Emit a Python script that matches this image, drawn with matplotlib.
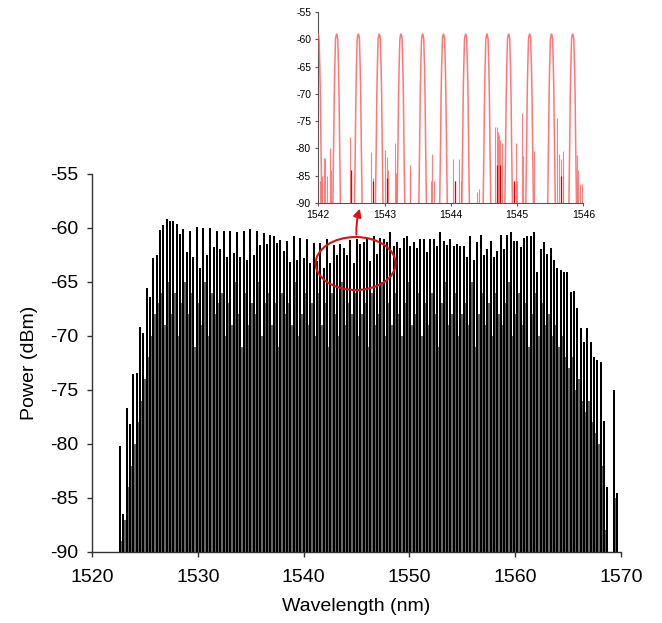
import numpy as np
import matplotlib.pyplot as plt
from matplotlib.patches import Ellipse

plt.rcParams['font.family'] = ['Liberation Sans', 'DejaVu Sans']
plt.rcParams['axes.unicode_minus'] = False

# comb lines of the full spectrum (evenly spaced channels)
line_start_nm = 1522.65
line_spacing_nm = 0.3155
peak_dbm = [
    -80.2, -86.5, -76.7, -78.2, -73.5, -73.4, -69.2, -69.7, -65.6, -66.4,
    -62.8, -62.5, -60.2, -59.7, -59.2, -59.4, -59.4, -59.6, -60.6, -60.1,
    -62.2, -60.3, -62.7, -59.9, -63.7, -60.0, -62.5, -60.0, -61.8, -60.3,
    -62.0, -60.3, -62.7, -60.3, -62.3, -60.4, -62.7, -60.3, -63.0, -60.1,
    -62.5, -60.3, -61.6, -60.5, -61.5, -60.7, -60.8, -61.4, -61.1, -62.1,
    -61.2, -63.2, -60.8, -63.0, -60.9, -62.8, -61.0, -63.3, -61.4, -63.1,
    -61.4, -63.7, -61.0, -63.3, -61.6, -62.5, -61.5, -61.9, -62.5, -61.1,
    -63.3, -61.0, -61.5, -61.3, -61.0, -63.1, -60.8, -62.4, -60.9, -61.0,
    -61.3, -60.4, -61.7, -61.3, -61.9, -60.9, -60.8, -61.7, -61.3, -61.9,
    -61.0, -61.0, -62.2, -61.0, -61.0, -61.7, -60.4, -61.2, -61.6, -61.0,
    -61.7, -61.5, -61.7, -61.7, -62.7, -60.8, -63.0, -61.3, -60.7, -62.5,
    -62.0, -61.2, -62.7, -62.1, -60.7, -62.0, -60.7, -60.4, -61.2, -61.2,
    -61.8, -60.9, -60.8, -60.8, -60.4, -64.1, -62.0, -61.3, -62.4, -61.9,
    -63.0, -63.7, -63.9, -64.1, -64.1, -65.9, -65.8, -67.4, -69.3, -70.6,
    -69.3, -70.6, -72.0, -72.2, -72.4, -77.9, -84.0, np.nan, -75.0, -84.5,
]
# level of the noise pedestal between neighbouring lines
gap_dbm = [
    -89, -87, -84, -82, -80, -78, -76, -74, -72, -70,
    -68, -67, -66, -69, -65, -68, -66, -70, -67, -65,
    -68, -66, -71, -67, -69, -65, -70, -66, -68, -67,
    -66, -70, -67, -69, -65, -68, -71, -66, -69, -67,
    -68, -65, -70, -67, -66, -69, -67, -71, -66, -68,
    -67, -69, -65, -70, -68, -66, -69, -67, -70, -66,
    -69, -67, -71, -66, -68, -70, -65, -69, -67, -68,
    -66, -70, -68, -67, -71, -66, -69, -68, -65, -70,
    -67, -69, -66, -68, -70, -67, -65, -69, -68, -66,
    -70, -67, -69, -66, -68, -71, -67, -65, -69, -68,
    -66, -70, -68, -67, -69, -65, -71, -68, -66, -69,
    -67, -70, -66, -68, -69, -67, -65, -70, -68, -66,
    -69, -67, -71, -68, -66, -70, -67, -69, -68, -70,
    -69, -71, -70, -72, -73, -72, -75, -74, -76, -77,
    -76, -78, -79, -80, -82, -88, np.nan, np.nan, -85,
]

# zoomed view 1542-1546 nm
zoom_peak_nm = [1541.995, 1542.277, 1542.604, 1542.920, 1543.248, 1543.575, 1543.890,
                1544.224, 1544.546, 1544.873, 1545.190, 1545.520, 1545.840]
zoom_peak_dbm = [-59.0, -59.0, -59.0, -59.0, -59.0, -59.0, -59.0,
                 -59.0, -59.0, -59.0, -59.0, -59.0, -59.0]
line_offset_nm = [-0.062, -0.057, -0.046, -0.036, -0.028, -0.017, -0.009, 0.0,
                  0.009, 0.017, 0.028, 0.036, 0.046, 0.057, 0.062]
line_shape_db = [-33, -31, -21, -11, -6, -1, -0.3, 0,
                 -0.3, -1, -6, -11, -21, -31, -33]
spike_nm = [1542.02, 1542.05, 1542.08, 1542.10, 1542.13, 1542.17, 1542.19, 1542.48,
            1542.49, 1542.80, 1542.82, 1543.01, 1543.03, 1543.05, 1543.16, 1543.17,
            1543.38, 1543.39, 1543.70, 1543.72, 1543.74, 1544.03, 1544.06, 1544.13,
            1544.15, 1544.39, 1544.42, 1544.67, 1544.69, 1544.71, 1544.73, 1544.75,
            1544.78, 1544.99, 1545.00, 1545.08, 1545.09, 1545.25, 1545.60, 1545.63,
            1545.67, 1545.69, 1545.70, 1545.90, 1545.92, 1545.95, 1545.975]
spike_dbm = [-86, -85, -81.7, -81.7, -85, -80, -84, -78,
             -84, -80.7, -85.5, -80.3, -81.6, -84, -79, -84.5,
             -83, -84.4, -86, -81, -86, -82, -86, -82,
             -86, -88, -87.5, -76, -76, -77, -77.5, -78.5,
             -79, -79.1, -86, -73.6, -81.5, -80.5, -74.5, -81,
             -82, -85, -80.5, -81.2, -84, -86.5, -86.5]
dark_spike_nm = [1542.49, 1542.82, 1543.03, 1544.06, 1544.70, 1544.74, 1544.95, 1545.66]
dark_spike_dbm = [-84, -86, -85.5, -86, -83, -83, -86, -85]

fig = plt.figure(figsize=(6.62, 6.23), dpi=100)
ax = fig.add_axes([0.139, 0.114, 0.799, 0.607])

peaks = np.array(peak_dbm, dtype=float)
gaps = np.array(gap_dbm, dtype=float)
wl = line_start_nm + line_spacing_nm * np.arange(len(peaks))
wl_gap = wl[:len(gaps)] + line_spacing_nm / 2

ok = np.isfinite(gaps)
ax.vlines(wl_gap[ok], -92, gaps[ok], color='#3a3a3a', lw=1.1)
ok = np.isfinite(peaks)
ax.vlines(wl[ok], -92, peaks[ok], color='black', lw=1.45)

ax.set_xlim(1520, 1570)
ax.set_ylim(-90, -55)
ax.set_xticks(np.arange(1520, 1571, 10))
ax.set_yticks(np.arange(-90, -54, 5))
for s in ['top', 'right']:
    ax.spines[s].set_visible(False)
for s in ['left', 'bottom']:
    ax.spines[s].set_color('#333333')
    ax.spines[s].set_linewidth(1.0)
ax.tick_params(direction='out', length=3.6, width=1.0, color='#333333',
               labelsize=14)
ax.tick_params(axis='x', pad=9)
ax.tick_params(axis='y', pad=6)
ax.set_xlabel('Wavelength (nm)', fontsize=14, labelpad=8)
ax.set_ylabel('Power (dBm)', fontsize=14, labelpad=9)

ax.add_patch(Ellipse((1544.92, -63.3), 7.56, 4.9, fill=False,
                     edgecolor='#e01010', lw=1.5, zorder=5))

# inset with the resolved lines
axin = fig.add_axes([0.4808, 0.6746, 0.4003, 0.3057])
axin.patch.set_alpha(0)
for c, p in zip(zoom_peak_nm, zoom_peak_dbm):
    axin.plot(c + np.array(line_offset_nm), p + np.array(line_shape_db),
              color='#ff6060', lw=1.1, alpha=0.85, zorder=3)
axin.vlines(spike_nm, -92, spike_dbm, color='#ff6a6a', lw=0.8, alpha=0.85)
axin.vlines(dark_spike_nm, -92, dark_spike_dbm, color='#e00000', lw=0.9)
axin.set_xlim(1542, 1546)
axin.set_ylim(-90, -55)
axin.set_xticks(np.arange(1542, 1547, 1))
axin.set_yticks(np.arange(-90, -54, 5))
for s in ['top', 'right']:
    axin.spines[s].set_visible(False)
for s in ['left', 'bottom']:
    axin.spines[s].set_color('#555555')
    axin.spines[s].set_linewidth(0.8)
axin.tick_params(direction='out', length=2.2, width=0.8, color='#555555',
                 labelsize=7.5, pad=3)

ax.annotate('', xy=(1542.64, -90.6), xycoords=axin.transData,
            xytext=(1545.0, -60.9), textcoords='data',
            arrowprops=dict(arrowstyle='-|>', color='#e01010', lw=1.4,
                            mutation_scale=12,
                            connectionstyle='arc3,rad=-0.1'),
            annotation_clip=False, zorder=6)

fig.savefig('out.png', dpi=100)
